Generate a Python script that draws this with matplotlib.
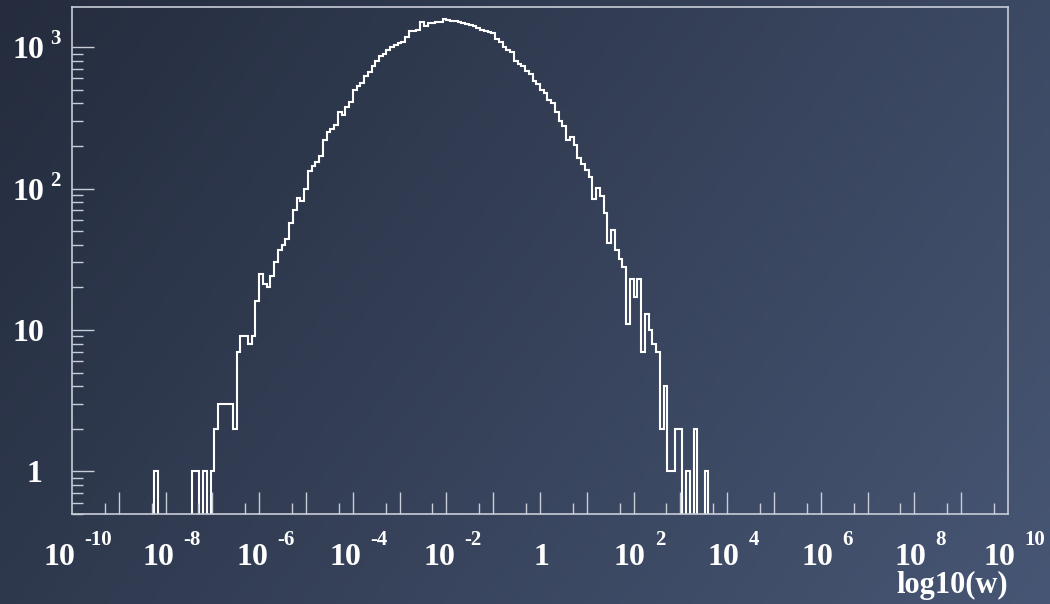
import numpy as np
import matplotlib
matplotlib.use('Agg')
import matplotlib.pyplot as plt
from matplotlib.ticker import FixedLocator, LogLocator, NullFormatter
from matplotlib.transforms import IdentityTransform

# histogram of log10(w): 250 bins over [-10, 10]
x_min, x_max, n_bins = -10.0, 10.0, 250
first_bin = 22
counts = [
    1, 0, 0, 0, 0, 0, 0, 0, 0, 0,                               # 22-31
    1, 1, 0, 1, 0, 1, 2, 3, 3, 3,                               # 32-41
    3, 2, 7, 9, 9, 8, 9, 16, 25, 21,                            # 42-51
    20, 24, 30, 37, 40, 44, 57, 70, 86, 81,                     # 52-61
    100, 132, 145, 155, 170, 220, 249, 265, 283, 350,           # 62-71
    333, 380, 411, 500, 530, 560, 620, 670, 730, 800,           # 72-81
    860, 900, 960, 1000, 1040, 1070, 1090, 1180, 1290, 1300,    # 82-91
    1320, 1510, 1420, 1470, 1480, 1500, 1510, 1570, 1555, 1540, # 92-101
    1530, 1510, 1490, 1460, 1440, 1420, 1370, 1330, 1300, 1280, # 102-111
    1260, 1140, 1080, 1000, 950, 930, 800, 760, 735, 680,       # 112-121
    640, 580, 545, 500, 470, 425, 400, 345, 300, 275,           # 122-131
    220, 232, 204, 165, 150, 136, 120, 84, 101, 88,             # 132-141
    67, 41, 51, 37, 32, 28, 11, 23, 17, 23,                     # 142-151
    7, 13, 10, 8, 7, 2, 4, 1, 1, 2,                             # 152-161
    2, 0, 1, 0, 2, 0, 0, 1,                                     # 162-169
]

x_label_exps = [-10, -8, -6, -4, -2, 0, 2, 4, 6, 8, 10]
y_label_vals = [1, 10, 100, 1000]
y_label_parts = [("1", ""), ("10", ""), ("10", "2"), ("10", "3")]
y_min, y_max = 0.5, 1920
x_title = "log10(w)"

W, H = 1050, 604
fig = plt.figure(figsize=(W / 100, H / 100), dpi=100)

# background gradient
bg = fig.add_axes([0, 0, 1, 1], zorder=-10)
gx, gy = np.meshgrid(np.linspace(0, 1, 300), np.linspace(0, 1, 200))
t = 0.7 * gx + 0.3 * gy
c0 = np.array([36, 44, 61]) / 255
c1 = np.array([71, 86, 116]) / 255
img = c0[None, None, :] + (c1 - c0)[None, None, :] * t[:, :, None]
bg.imshow(img, aspect='auto', extent=[0, 1, 1, 0])
bg.set_axis_off()

frame_col = '#c8cdd7'
ax = fig.add_axes([72 / W, 1 - 514 / H, (1008 - 72) / W, (514 - 7) / H])
ax.set_facecolor('none')

edges = np.linspace(x_min, x_max, n_bins + 1)
values = np.zeros(n_bins)
values[first_bin:first_bin + len(counts)] = counts
plot_vals = np.where(values > 0, values, 1e-3)
ax.stairs(plot_vals, edges, color='white', lw=1.5, baseline=None)

ax.set_xlim(x_min, x_max)
ax.set_yscale('log')
ax.set_ylim(y_min, y_max)

for s in ax.spines.values():
    s.set_color(frame_col)
    s.set_linewidth(1.2)

ax.xaxis.set_major_locator(FixedLocator(np.arange(-9, 10)))
ax.xaxis.set_minor_locator(FixedLocator(np.arange(-10, 10) + 0.7))
ax.yaxis.set_major_locator(FixedLocator(y_label_vals))
ax.yaxis.set_minor_locator(LogLocator(base=10, subs=np.arange(2, 10), numticks=20))
ax.xaxis.set_major_formatter(NullFormatter())
ax.xaxis.set_minor_formatter(NullFormatter())
ax.yaxis.set_major_formatter(NullFormatter())
ax.yaxis.set_minor_formatter(NullFormatter())
ax.tick_params(which='major', direction='in', length=16, width=1, color=frame_col)
ax.tick_params(which='minor', direction='in', length=8, width=1, color=frame_col)
ax.tick_params(axis='x', which='both', top=False)
ax.tick_params(axis='y', which='both', right=False)

font = dict(family='Liberation Serif', weight='bold', color='white')
base_size, exp_size = 23, 15
ident = IdentityTransform()

fig.canvas.draw()
renderer = fig.canvas.get_renderer()

# x tick labels
for e in x_label_exps:
    tx = ax.transData.transform((e, 1))[0]
    if e == 0:
        fig.text(tx + 1, 39, "1", ha='center', va='baseline', size=base_size,
                 transform=ident, **font)
        continue
    b = fig.text(0, 39, "10", ha='left', va='baseline', size=base_size,
                 transform=ident, **font)
    p = fig.text(0, 59, str(e), ha='left', va='baseline', size=exp_size,
                 transform=ident, **font)
    wb = b.get_window_extent(renderer).width
    wp = p.get_window_extent(renderer).width
    gap = 9
    left = tx + 6 - (wb + gap + wp) / 2
    b.set_x(left)
    p.set_x(left + wb + gap)

# y tick labels
for v, (base, ex) in zip(y_label_vals, y_label_parts):
    ty = ax.transData.transform((0, v))[1]
    rx = 42 if base == "1" else 44
    fig.text(rx, ty - 11, base, ha='right', va='baseline', size=base_size,
             transform=ident, **font)
    if ex:
        fig.text(50, ty + 3, ex, ha='left', va='baseline', size=exp_size,
                 transform=ident, **font)

fig.text(1008, 11, x_title, ha='right', va='baseline', size=22,
         transform=ident, **font)

fig.savefig('out.png', dpi=100)
